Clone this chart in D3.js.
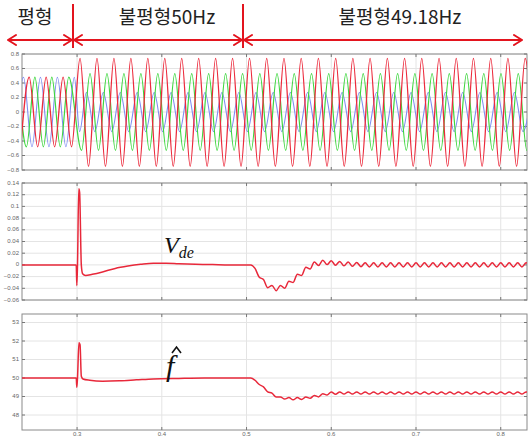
<!DOCTYPE html>
<html>
<head>
<meta charset="utf-8">
<script src="https://cdn.jsdelivr.net/npm/d3@7"></script>
<style>
  body { margin: 0; background: #fff; }
  svg { display: block; }
  .tick-lbl { font-family: "Liberation Sans", Arial, sans-serif; font-size: 6px; fill: #666; }
</style>
</head>
<body>
<div id="viz"></div>
<script>
// ---- data ----
// three phase voltages: extrema [time, value]
const redWave = [[0.2335,-0.48],[0.2435,0.48],[0.2535,-0.48],[0.2635,0.48],[0.2735,-0.48],[0.2835,0.48],[0.2935,-0.48],
  [0.3035,0.74],[0.3135,-0.75],[0.3235,0.74],[0.3335,-0.75],[0.3435,0.74],[0.3535,-0.75],[0.3635,0.74],[0.3735,-0.75],[0.3835,0.74],[0.3935,-0.75],
  [0.4035,0.74],[0.4135,-0.75],[0.4235,0.74],[0.4335,-0.75],[0.4435,0.74],[0.4535,-0.75],[0.4635,0.74],[0.4735,-0.75],[0.4835,0.74],[0.4935,-0.75],
  [0.5035,0.74],[0.5137,-0.75],[0.5238,0.74],[0.5340,-0.75],[0.5442,0.74],[0.5543,-0.75],[0.5645,0.74],[0.5747,-0.75],[0.5848,0.74],[0.5950,-0.75],
  [0.6052,0.74],[0.6153,-0.75],[0.6255,0.74],[0.6357,-0.75],[0.6458,0.74],[0.6560,-0.75],[0.6662,0.74],[0.6763,-0.75],[0.6865,0.74],[0.6967,-0.75],
  [0.7068,0.74],[0.7170,-0.75],[0.7272,0.74],[0.7373,-0.75],[0.7475,0.74],[0.7577,-0.75],[0.7678,0.74],[0.7780,-0.75],[0.7882,0.74],[0.7983,-0.75],
  [0.8085,0.74],[0.8187,-0.75],[0.8288,0.74],[0.8390,-0.75]];
const greenWave = [[0.2302,0.48],[0.2402,-0.48],[0.2502,0.48],[0.2602,-0.48],[0.2702,0.48],[0.2802,-0.48],[0.2902,0.48],
  [0.3053,-0.53],[0.3153,0.53],[0.3253,-0.53],[0.3353,0.53],[0.3453,-0.53],[0.3553,0.53],[0.3653,-0.53],[0.3753,0.53],[0.3853,-0.53],[0.3953,0.53],
  [0.4053,-0.53],[0.4153,0.53],[0.4253,-0.53],[0.4353,0.53],[0.4453,-0.53],[0.4553,0.53],[0.4653,-0.53],[0.4753,0.53],[0.4853,-0.53],[0.4953,0.53],
  [0.5055,-0.53],[0.5157,0.53],[0.5258,-0.53],[0.5360,0.53],[0.5462,-0.53],[0.5563,0.53],[0.5665,-0.53],[0.5767,0.53],[0.5868,-0.53],[0.5970,0.53],
  [0.6072,-0.53],[0.6173,0.53],[0.6275,-0.53],[0.6377,0.53],[0.6478,-0.53],[0.6580,0.53],[0.6682,-0.53],[0.6783,0.53],[0.6885,-0.53],[0.6987,0.53],
  [0.7088,-0.53],[0.7190,0.53],[0.7292,-0.53],[0.7393,0.53],[0.7495,-0.53],[0.7597,0.53],[0.7698,-0.53],[0.7800,0.53],[0.7902,-0.53],[0.8003,0.53],
  [0.8105,-0.53],[0.8207,0.53],[0.8308,-0.53],[0.8410,0.53]];
const blueWave = [[0.2268,-0.48],[0.2368,0.48],[0.2468,-0.48],[0.2568,0.48],[0.2668,-0.48],[0.2768,0.48],[0.2868,-0.48],[0.2968,0.48],[0.3030,-0.27],
  [0.3110,0.27],[0.3210,-0.27],[0.3310,0.27],[0.3410,-0.27],[0.3510,0.27],[0.3610,-0.27],[0.3710,0.27],[0.3810,-0.27],[0.3910,0.27],[0.4010,-0.27],
  [0.4110,0.27],[0.4210,-0.27],[0.4310,0.27],[0.4410,-0.27],[0.4510,0.27],[0.4610,-0.27],[0.4710,0.27],[0.4810,-0.27],[0.4910,0.27],[0.5010,-0.27],
  [0.5112,0.27],[0.5213,-0.27],[0.5315,0.27],[0.5417,-0.27],[0.5518,0.27],[0.5620,-0.27],[0.5722,0.27],[0.5823,-0.27],[0.5925,0.27],[0.6027,-0.27],
  [0.6128,0.27],[0.6230,-0.27],[0.6332,0.27],[0.6433,-0.27],[0.6535,0.27],[0.6637,-0.27],[0.6738,0.27],[0.6840,-0.27],[0.6942,0.27],[0.7043,-0.27],
  [0.7145,0.27],[0.7247,-0.27],[0.7348,0.27],[0.7450,-0.27],[0.7552,0.27],[0.7653,-0.27],[0.7755,0.27],[0.7857,-0.27],[0.7958,0.27],[0.8060,-0.27],
  [0.8162,0.27],[0.8263,-0.27],[0.8365,0.27]];

// d-axis voltage error V_de
const vdeSeries = [[0.230,0],[0.2990,0],[0.2997,-0.035],[0.3005,0.0],[0.3020,0.13],[0.3030,0.124],[0.3050,0.0],[0.3065,-0.015],[0.310,-0.018],
  [0.318,-0.016],[0.330,-0.012],[0.345,-0.006],[0.360,-0.002],[0.375,0.001],[0.390,0.003],[0.405,0.003],[0.420,0.002],[0.440,0.001],[0.460,0.0005],
  [0.480,0],[0.505,0],[0.510,-0.006],[0.515,-0.021],[0.520,-0.025],[0.525,-0.039],[0.530,-0.035],[0.535,-0.044],[0.540,-0.035],[0.545,-0.040],
  [0.550,-0.028],[0.555,-0.030],[0.560,-0.016],[0.565,-0.018],[0.570,-0.004],[0.575,-0.007],[0.580,0.005],[0.585,-0.001],[0.590,0.008],[0.595,0.0005],
  [0.600,0.007],[0.605,-0.0005],[0.610,0.006],[0.615,-0.0015],[0.620,0.005],[0.625,-0.0025],[0.630,0.0043],[0.635,-0.003],[0.640,0.0035],[0.645,-0.0035],
  [0.650,0.0035],[0.655,-0.0035],[0.660,0.0035],[0.665,-0.0035],[0.670,0.0035],[0.675,-0.0035],[0.680,0.0035],[0.685,-0.0035],[0.690,0.0035],[0.695,-0.0035],
  [0.700,0.0035],[0.705,-0.0035],[0.710,0.0035],[0.715,-0.0035],[0.720,0.0035],[0.725,-0.0035],[0.730,0.0035],[0.735,-0.0035],[0.740,0.0035],[0.745,-0.0035],
  [0.750,0.0035],[0.755,-0.0035],[0.760,0.0035],[0.765,-0.0035],[0.770,0.0035],[0.775,-0.0035],[0.780,0.0035],[0.785,-0.0035],[0.790,0.0035],[0.795,-0.0035],
  [0.800,0.0035],[0.805,-0.0035],[0.810,0.0035],[0.815,-0.0035],[0.820,0.0035],[0.825,-0.0035],[0.830,0.0035],[0.835,-0.0035]];

// estimated frequency f-hat
const freqSeries = [[0.230,50],[0.2990,50],[0.2997,49.5],[0.3005,50.0],[0.3022,51.9],[0.3035,51.8],[0.3050,50.1],[0.3070,49.95],[0.315,49.88],
  [0.330,49.83],[0.350,49.85],[0.370,49.9],[0.390,49.95],[0.420,49.98],[0.450,50],[0.505,50],[0.510,49.88],[0.515,49.65],[0.520,49.52],[0.525,49.25],
  [0.530,49.18],[0.535,48.98],[0.540,48.98],[0.545,48.86],[0.550,48.94],[0.555,48.82],[0.560,48.94],[0.565,48.84],[0.570,48.98],[0.575,48.9],
  [0.580,49.06],[0.585,48.98],[0.590,49.15],[0.595,49.08],[0.600,49.24],[0.605,49.12],[0.610,49.25],[0.615,49.13],[0.620,49.25],[0.625,49.13],
  [0.630,49.25],[0.635,49.13],[0.640,49.25],[0.645,49.13],[0.650,49.25],[0.655,49.13],[0.660,49.25],[0.665,49.13],[0.670,49.25],[0.675,49.13],
  [0.680,49.25],[0.685,49.13],[0.690,49.25],[0.695,49.13],[0.700,49.25],[0.705,49.13],[0.710,49.25],[0.715,49.13],[0.720,49.25],[0.725,49.13],
  [0.730,49.25],[0.735,49.13],[0.740,49.25],[0.745,49.13],[0.750,49.25],[0.755,49.13],[0.760,49.25],[0.765,49.13],[0.770,49.25],[0.775,49.13],
  [0.780,49.25],[0.785,49.13],[0.790,49.25],[0.795,49.13],[0.800,49.25],[0.805,49.13],[0.810,49.25],[0.815,49.13],[0.820,49.25],[0.825,49.13],
  [0.830,49.25],[0.835,49.13]];

const xTicks = [0.3, 0.4, 0.5, 0.6, 0.7, 0.8];
const waveTicks = [0.8, 0.6, 0.4, 0.2, 0, -0.2, -0.4, -0.6, -0.8];
const vdeTicks = [0.14, 0.12, 0.1, 0.08, 0.06, 0.04, 0.02, 0, -0.02, -0.04, -0.06];
const freqTicks = [53, 52, 51, 50, 49, 48];
const regionLabels = ["평형", "불평형50Hz", "불평형49.18Hz"];

// ---- layout ----
const W = 529, H = 436;
const svg = d3.select("#viz").append("svg").attr("width", W).attr("height", H);

const x = d3.scaleLinear().domain([0.235, 0.831]).range([22, 527]);

const panels = [
  { top: 54,  bottom: 170, domain: [-0.8, 0.8],   ticks: waveTicks, fmt: d => d3.format("")(+d.toFixed(2)) },
  { top: 183, bottom: 300, domain: [-0.06, 0.14], ticks: vdeTicks,  fmt: d => d3.format("")(+d.toFixed(2)) },
  { top: 314, bottom: 430, domain: [47.19, 53.46], ticks: freqTicks, fmt: d => d }
];

panels.forEach((p, i) => {
  p.y = d3.scaleLinear().domain(p.domain).range([p.bottom, p.top]);
  const g = svg.append("g");
  p.g = g;

  g.append("clipPath").attr("id", "clip" + i)
    .append("rect").attr("x", x.range()[0]).attr("y", p.top)
    .attr("width", x.range()[1] - x.range()[0]).attr("height", p.bottom - p.top);

  // grid
  g.selectAll(".hg").data(p.ticks).enter().append("line")
    .attr("x1", x.range()[0]).attr("x2", x.range()[1])
    .attr("y1", d => p.y(d)).attr("y2", d => p.y(d))
    .attr("stroke", "#e4e4e4").attr("stroke-width", 1);
  g.selectAll(".vg").data(xTicks).enter().append("line")
    .attr("x1", d => x(d)).attr("x2", d => x(d))
    .attr("y1", p.top).attr("y2", p.bottom)
    .attr("stroke", "#e4e4e4").attr("stroke-width", 1);

  // frame
  g.append("rect").attr("x", x.range()[0]).attr("y", p.top)
    .attr("width", x.range()[1] - x.range()[0]).attr("height", p.bottom - p.top)
    .attr("fill", "none").attr("stroke", "#8a8a8a").attr("stroke-width", 1);

  // tick marks
  g.selectAll(".yt").data(p.ticks).enter().append("path")
    .attr("d", d => `M${x.range()[0]},${p.y(d)}h3M${x.range()[1]},${p.y(d)}h-3`)
    .attr("stroke", "#777");
  g.selectAll(".xt").data(xTicks).enter().append("path")
    .attr("d", d => `M${x(d)},${p.top}v3M${x(d)},${p.bottom}v-3`)
    .attr("stroke", "#777");

  // y labels
  g.selectAll(".yl").data(p.ticks).enter().append("text")
    .attr("class", "tick-lbl")
    .attr("x", x.range()[0] - 3).attr("y", d => p.y(d))
    .attr("text-anchor", "end").attr("dominant-baseline", "middle")
    .text(p.fmt);
});

// x labels below last panel
const pl = panels[2];
svg.selectAll(".xl").data(xTicks).enter().append("text")
  .attr("class", "tick-lbl")
  .attr("x", d => x(d)).attr("y", pl.bottom + 4)
  .attr("text-anchor", "middle").attr("dominant-baseline", "middle")
  .text(d => d);

// ---- series ----
function drawLine(p, i, data, color, width) {
  const line = d3.line()
    .x(d => x(d[0])).y(d => p.y(d[1]))
    .curve(d3.curveMonotoneX);
  p.g.append("path")
    .attr("clip-path", `url(#clip${i})`)
    .attr("d", line(data))
    .attr("fill", "none").attr("stroke", color)
    .attr("stroke-width", width).attr("stroke-linejoin", "round");
}

drawLine(panels[0], 0, blueWave, "#7f8cf0", 1.1);
drawLine(panels[0], 0, greenWave, "#3ed63e", 1.2);
drawLine(panels[0], 0, redWave, "#ec2a3c", 1.3);
drawLine(panels[1], 1, vdeSeries, "#e8283a", 1.5);
drawLine(panels[2], 2, freqSeries, "#e8283a", 1.5);

// ---- annotations ----
const ann = svg.append("g");
const red = "#e3141e";
[73, 243].forEach(px => {
  ann.append("line").attr("x1", px).attr("x2", px).attr("y1", 4).attr("y2", 48)
    .attr("stroke", red).attr("stroke-width", 2);
});
const arrows = [[8, 72], [74, 242], [244, 522]];
arrows.forEach(([a, b]) => {
  const y = 40;
  ann.append("path")
    .attr("d", `M${a},${y}H${b}M${a + 8},${y - 5}L${a},${y}L${a + 8},${y + 5}M${b - 8},${y - 5}L${b},${y}L${b - 8},${y + 5}`)
    .attr("fill", "none").attr("stroke", red).attr("stroke-width", 2)
    .attr("stroke-linecap", "round").attr("stroke-linejoin", "round");
});
const labelX = [35, 167, 400];
ann.selectAll(".rl").data(regionLabels).enter().append("text")
  .attr("x", (d, i) => labelX[i]).attr("y", 24)
  .attr("text-anchor", "middle")
  .attr("font-family", "'Noto Sans CJK KR', 'Noto Sans', sans-serif")
  .attr("font-size", 19).attr("fill", "#222")
  .text(d => d);

// V_de label
const vt = svg.append("text").attr("x", 164).attr("y", 253)
  .attr("font-family", "'Liberation Serif', 'DejaVu Serif', serif")
  .attr("font-style", "italic").attr("fill", "#111");
vt.append("tspan").attr("font-size", 24).text("V");
vt.append("tspan").attr("font-size", 16).attr("dy", 5).text("de");

// f-hat label
svg.append("text").attr("x", 166).attr("y", 376)
  .attr("font-family", "'Liberation Serif', 'DejaVu Serif', serif")
  .attr("font-style", "italic").attr("font-size", 30).attr("fill", "#111")
  .text("f");
svg.append("path").attr("d", "M172,353L176.5,347L181,353")
  .attr("fill", "none").attr("stroke", "#111").attr("stroke-width", 1.6);
</script>
</body>
</html>
